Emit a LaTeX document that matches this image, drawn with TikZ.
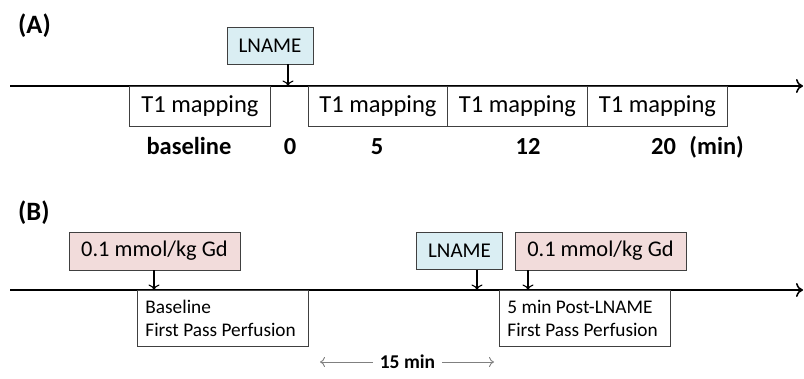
\documentclass[tikz,border=0pt]{standalone}
\usepackage{fontspec}
\setmainfont{Carlito}
\usetikzlibrary{arrows.meta}
\definecolor{lblue}{HTML}{DAEEF3}
\definecolor{lpink}{HTML}{F2DCDB}
\definecolor{edge}{HTML}{404040}
\newcommand{\natsp}{\spaceskip=0pt\xspaceskip=0pt\relax}
\begin{document}
\begin{tikzpicture}[x=1pt,y=-1pt,
  box/.style={draw=edge, line width=0.9pt, inner sep=0pt, font=\fontsize{21}{23}\selectfont},
  tbox/.style={box, minimum width=#1, minimum height=40, font=\fontsize{24.5}{26}\selectfont},
  drug/.style={box, fill=lblue, minimum width=86, minimum height=37},
  gd/.style={box, fill=lpink, minimum width=171, minimum height=38, font=\fontsize{22.4}{24}\selectfont},
  pbox/.style={draw=edge, line width=0.9pt, inner xsep=8pt, inner ysep=0pt, align=left,
     text width=155, minimum height=56, font=\fontsize{19.3}{23.5}\selectfont},
  timeline/.style={line width=2.4pt, -{To[length=7pt,width=14pt,line width=1.6pt]}},
  pointer/.style={line width=1.3pt, -{To[length=5.5pt,width=11pt,line width=1.1pt]}},
  lbl/.style={font=\bfseries\fontsize{24.5}{26}\selectfont, inner sep=0pt, anchor=base},
  panel/.style={font=\bfseries\fontsize{26.5}{28}\selectfont, inner sep=0pt, anchor=west},
  span/.style={draw=gray, line width=0.9pt, -{To[length=5pt,width=10pt]}}
]
\useasboundingbox (0,0) rectangle (804,378);
% ---------- (A) ----------
\node[panel] (pA) at (18,26) {(A)};
\coordinate (a0) at (10,86);
\coordinate (a1) at (803,86);
\draw[timeline] (a0) -- (a1);
\node[drug] (lnA) at (270,45.5) {LNAME};
\coordinate (tA) at (288,86);
\draw[pointer] (lnA.south -| tA) -- (tA);
\node[tbox=141, anchor=north west] (m1) at (129,86) {T1 mapping};
\node[tbox=139, anchor=north west] (m2) at (308,86) {T1 mapping};
\node[tbox=140, anchor=north west] (m3) at (447,86) {T1 mapping};
\node[tbox=140, anchor=north west] (m4) at (587,86) {T1 mapping};
\node[lbl] (l0) at (189,154) {baseline};
\node[lbl] (l1) at (290,154) {0};
\node[lbl] (l2) at (377,154) {5};
\node[lbl] (l3) at (528,154) {12};
\node[lbl] (l4) at (697.5,154) {20\hspace{0.55em}(min)};
% ---------- (B) ----------
\node[panel] (pB) at (18,213) {(B)};
\coordinate (b0) at (10,290);
\coordinate (b1) at (803,290);
\draw[timeline] (b0) -- (b1);
\node[gd] (gd1) at (154.5,251) {0.1 mmol/kg Gd};
\coordinate (tG1) at (154,290);
\draw[pointer] (gd1.south -| tG1) -- (tG1);
\node[drug] (lnB) at (459.5,251) {LNAME};
\coordinate (tL) at (477,290);
\draw[pointer] (lnB.south -| tL) -- (tL);
\node[gd] (gd2) at (600.5,251) {0.1 mmol/kg Gd};
\coordinate (tG2) at (528,290);
\draw[pointer] (gd2.south -| tG2) -- (tG2);
\node[pbox, anchor=north west] (fp1) at (137,290) {\natsp Baseline\\First Pass Perfusion};
\node[pbox, anchor=north west] (fp2) at (499,290) {\natsp 5 min Post-LNAME\\First Pass Perfusion};
\node[font=\bfseries\fontsize{19.5}{21}\selectfont, inner sep=0pt] (dur) at (407.5,362) {15 min};
\coordinate (s0) at (320,362);
\coordinate (s1) at (494,362);
\draw[span] ([xshift=-7pt]dur.west) -- (s0);
\draw[span] ([xshift=7pt]dur.east) -- (s1);
\end{tikzpicture}
\end{document}
